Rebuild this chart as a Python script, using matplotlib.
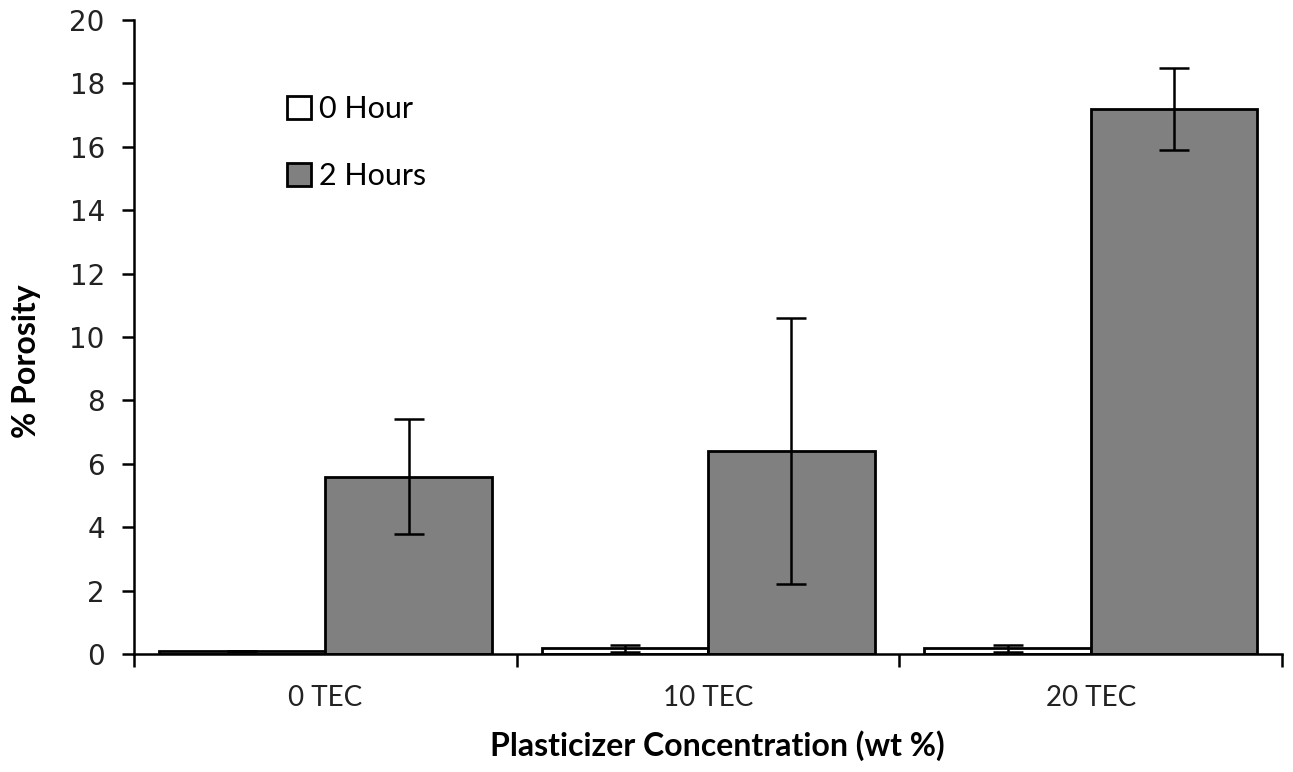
import numpy as np
import matplotlib
matplotlib.use("Agg")
import matplotlib.pyplot as plt
from matplotlib.ticker import FixedLocator, NullFormatter

# porosity data, mean and error for each plasticizer level
categories = ["0 TEC", "10 TEC", "20 TEC"]
hour0 = [0.1, 0.18, 0.18]
hour0_err = [0.0, 0.1, 0.1]
hour2 = [5.6, 6.4, 17.2]
hour2_err = [1.8, 4.2, 1.3]

plt.rcParams['font.family'] = ['Lato', 'DejaVu Sans']

fig = plt.figure(figsize=(12.93, 7.72), dpi=100)
ax = fig.add_axes([0.1036, 0.1528, 0.888, 0.8212])

x = np.arange(len(categories))
w = 0.435
ekw = dict(elinewidth=1.8, capsize=10.5, capthick=1.8, ecolor='black')
ax.bar(x - w / 2, hour0, w, yerr=hour0_err, color='white', edgecolor='black',
       linewidth=2.0, error_kw=ekw, label='0 Hour')
ax.bar(x + w / 2, hour2, w, yerr=hour2_err, color='#808080', edgecolor='black',
       linewidth=2.0, error_kw=ekw, label='2 Hours')

ax.set_xlim(-0.5, len(categories) - 0.5)
ax.set_ylim(0, 20)
ax.set_yticks(np.arange(0, 21, 2))
ax.set_yticklabels([str(v) for v in range(0, 21, 2)], family='DejaVu Sans', fontsize=20,
                   color='#222222')
ax.set_xticks(x)
ax.set_xticklabels(categories, fontsize=20, color='#222222')
ax.xaxis.set_minor_locator(FixedLocator(np.arange(-0.5, len(categories), 1.0)))
ax.xaxis.set_minor_formatter(NullFormatter())
ax.tick_params(axis='x', which='major', length=0, pad=22)
ax.tick_params(axis='x', which='minor', length=9, width=1.8, direction='out')
ax.tick_params(axis='y', length=9, width=1.8, direction='out', pad=12)

for s in ['top', 'right']:
    ax.spines[s].set_visible(False)
for s in ['left', 'bottom']:
    ax.spines[s].set_linewidth(1.8)

ax.set_xlabel('Plasticizer Concentration (wt %)', fontsize=23, fontweight='bold', va='center')
ax.xaxis.set_label_coords(0.508, -0.145)
ax.set_ylabel('% Porosity', fontsize=23, fontweight='bold', va='center')
ax.yaxis.set_label_coords(-0.094, 0.462)

ax.legend(loc='upper left', bbox_to_anchor=(0.109, 0.925), frameon=False, fontsize=22,
          handlelength=0.8, handleheight=0.8, handletextpad=0.25, labelspacing=1.27)

fig.savefig('out.png', dpi=100)
